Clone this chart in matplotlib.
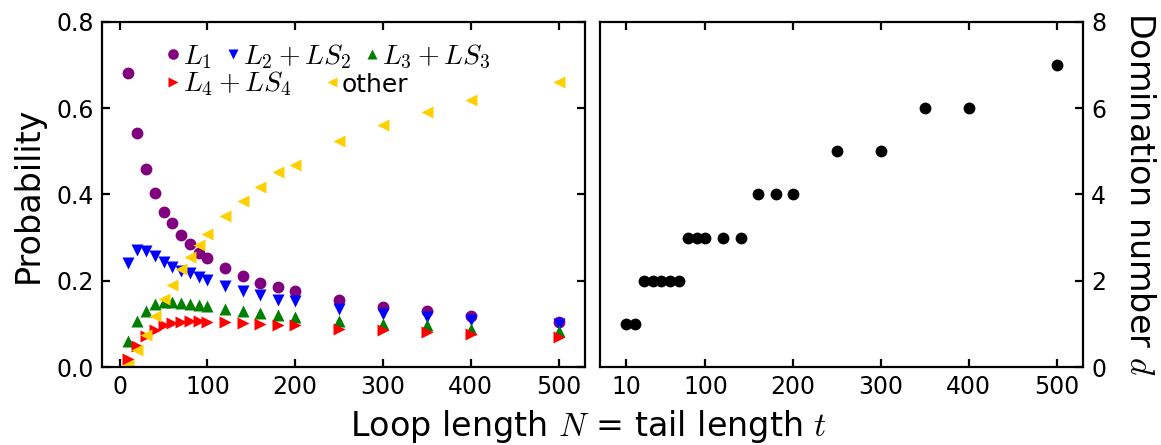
import matplotlib
matplotlib.use("Agg")
import matplotlib.pyplot as plt

# ------------------------------------------------------------
# data
# ------------------------------------------------------------
N = [10, 20, 30, 40, 50, 60, 70, 80, 90, 100,
     120, 140, 160, 180, 200, 250, 300, 350, 400, 500]

p_L1 = [0.682, 0.542, 0.458, 0.403, 0.360, 0.333, 0.306, 0.285, 0.264, 0.253,
        0.230, 0.212, 0.196, 0.185, 0.176, 0.156, 0.139, 0.131, 0.119, 0.104]
p_L2 = [0.242, 0.271, 0.269, 0.257, 0.244, 0.232, 0.223, 0.217, 0.209, 0.201,
        0.187, 0.176, 0.167, 0.156, 0.153, 0.135, 0.124, 0.116, 0.110, 0.099]
p_L3 = [0.060, 0.108, 0.131, 0.147, 0.151, 0.150, 0.148, 0.147, 0.145, 0.141,
        0.134, 0.130, 0.126, 0.120, 0.116, 0.106, 0.100, 0.097, 0.089, 0.083]
p_L4 = [0.019, 0.050, 0.073, 0.087, 0.097, 0.102, 0.104, 0.106, 0.106, 0.105,
        0.105, 0.103, 0.101, 0.098, 0.097, 0.089, 0.085, 0.081, 0.077, 0.070]
p_other = [0.006, 0.039, 0.075, 0.118, 0.158, 0.191, 0.228, 0.254, 0.282, 0.308,
           0.349, 0.386, 0.418, 0.451, 0.468, 0.523, 0.561, 0.591, 0.618, 0.661]

dom_d = [1, 1, 2, 2, 2, 2, 2, 3, 3, 3,
         3, 3, 4, 4, 4, 5, 5, 6, 6, 7]

# ------------------------------------------------------------
# style
# ------------------------------------------------------------
plt.rcParams["mathtext.fontset"] = "cm"
plt.rcParams["font.size"] = 17

fig = plt.figure(figsize=(11.61, 4.45), dpi=100)
ax1 = fig.add_axes([0.0879, 0.175, 0.416, 0.776])
ax2 = fig.add_axes([0.5168, 0.175, 0.416, 0.776])

ms = 8.5
h1, = ax1.plot(N, p_L1, "o", color="purple", ms=ms, mec="none")
h2, = ax1.plot(N, p_L2, "v", color="blue", ms=ms, mec="none")
h3, = ax1.plot(N, p_L3, "^", color="green", ms=ms, mec="none")
h4, = ax1.plot(N, p_L4, ">", color="red", ms=ms, mec="none")
h5, = ax1.plot(N, p_other, "<", color="#ffd000", ms=ms, mec="none")

ax2.plot(N, dom_d, "o", color="black", ms=8.5, mec="none")

for ax in (ax1, ax2):
    ax.set_xlim(-20, 530)
    for s in ax.spines.values():
        s.set_linewidth(1.6)
    ax.tick_params(direction="in", length=6, width=1.6, top=True,
                   labelsize=17, pad=6)

ax1.set_ylim(0, 0.8)
ax1.set_xticks([0, 100, 200, 300, 400, 500])
ax1.set_yticks([0.0, 0.2, 0.4, 0.6, 0.8])
ax1.tick_params(right=True)
ax1.set_ylabel("Probability", fontsize=24, labelpad=8)

ax2.set_ylim(0, 8)
ax2.set_xticks([10, 100, 200, 300, 400, 500])
ax2.set_yticks([0, 2, 4, 6, 8])
ax2.yaxis.tick_right()
ax2.tick_params(left=False, right=True, top=True, direction="in")
ax2.yaxis.set_label_position("right")
ax2.set_ylabel("Domination number $d$", fontsize=24, rotation=270,
               va="bottom", labelpad=12)

fig.text(0.507, 0.0, "Loop length $N$ = tail length $t$", fontsize=24,
         ha="center", va="bottom")

# legend: two rows built as two legends
leg1 = ax1.legend([h1, h2, h3], [r"$L_1$", r"$L_2+LS_2$", r"$L_3+LS_3$"],
                  ncol=3, loc="center left", bbox_to_anchor=(0.133, 0.9),
                  frameon=False, fontsize=20, numpoints=1, handlelength=0.5,
                  handletextpad=0.1, columnspacing=0.5, borderpad=0,
                  borderaxespad=0, markerscale=0.9)
ax1.add_artist(leg1)
leg2 = ax1.legend([h4, h5], [r"$L_4+LS_4$", "other"],
                  ncol=2, loc="center left", bbox_to_anchor=(0.133, 0.82),
                  frameon=False, fontsize=20, numpoints=1, handlelength=0.5,
                  handletextpad=0.1, columnspacing=1.2, borderpad=0,
                  borderaxespad=0, markerscale=0.9)
leg2.get_texts()[1].set_fontsize(18)

plt.savefig("out.png", dpi=100)
